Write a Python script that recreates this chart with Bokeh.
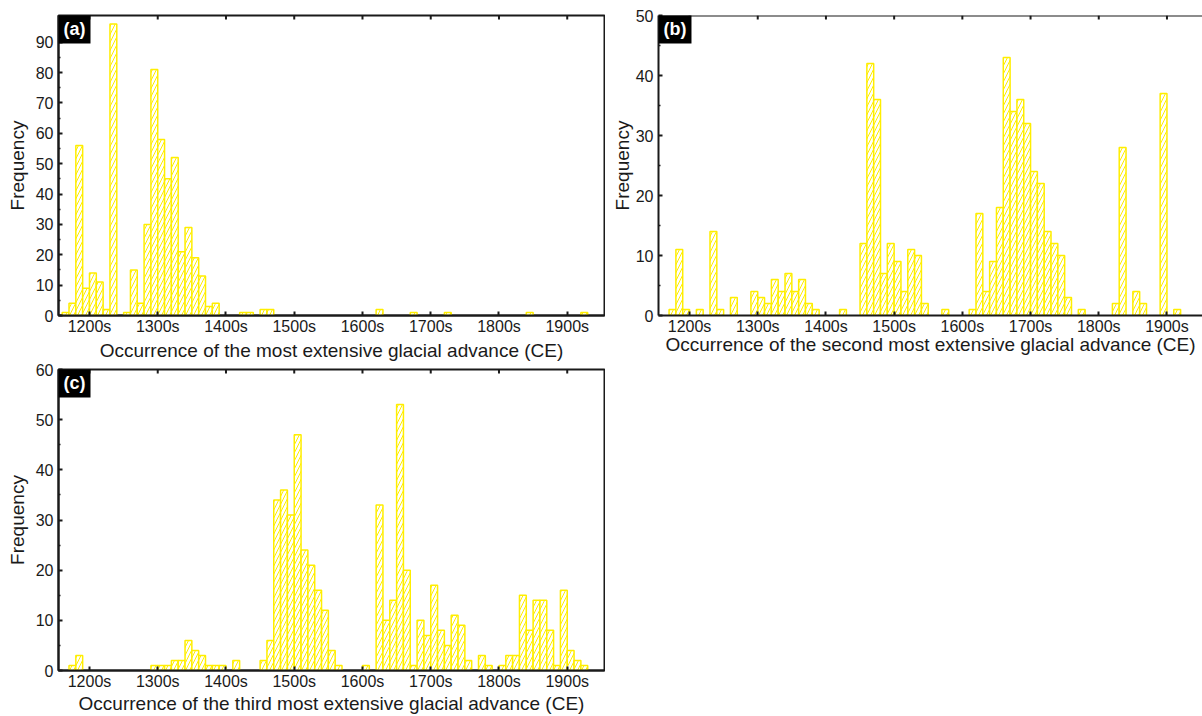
from bokeh.plotting import figure
from bokeh.models import Range1d, FixedTicker, Label, ColumnDataSource, Span
from bokeh.layouts import column, row
from bokeh.embed import file_html
from bokeh.resources import INLINE

# ---------------- data ----------------
bin_width = 10
x_ticks = [1200, 1300, 1400, 1500, 1600, 1700, 1800, 1900]
x_tick_labels = ["1200s", "1300s", "1400s", "1500s", "1600s", "1700s", "1800s", "1900s"]

decades_a = [1160, 1170, 1180, 1190, 1200, 1210, 1220, 1230, 1250, 1260, 1270, 1280,
             1290, 1300, 1310, 1320, 1330, 1340, 1350, 1360, 1370, 1380, 1420, 1430,
             1450, 1460, 1620, 1670, 1720, 1840, 1920]
counts_a = [1, 4, 56, 9, 14, 11, 2, 96, 1, 15, 4, 30,
            81, 58, 45, 52, 21, 29, 19, 13, 3, 4, 1, 1,
            2, 2, 2, 1, 1, 1, 1]

decades_b = [1170, 1180, 1190, 1210, 1230, 1240, 1260, 1290, 1300, 1310, 1320, 1330,
             1340, 1350, 1360, 1370, 1380, 1420, 1450, 1460, 1470, 1480, 1490, 1500,
             1510, 1520, 1530, 1540, 1570, 1610, 1620, 1630, 1640, 1650, 1660, 1670,
             1680, 1690, 1700, 1710, 1720, 1730, 1740, 1750, 1770, 1820, 1830, 1850,
             1860, 1890, 1910]
counts_b = [1, 11, 1, 1, 14, 1, 3, 4, 3, 2, 6, 4,
            7, 4, 6, 2, 1, 1, 12, 42, 36, 7, 12, 9,
            4, 11, 10, 2, 1, 1, 17, 4, 9, 18, 43, 34,
            36, 32, 24, 22, 14, 12, 10, 3, 1, 2, 28, 4,
            2, 37, 1]

decades_c = [1170, 1180, 1290, 1300, 1310, 1320, 1330, 1340, 1350, 1360, 1370, 1380,
             1390, 1410, 1450, 1460, 1470, 1480, 1490, 1500, 1510, 1520, 1530, 1540,
             1550, 1560, 1600, 1620, 1630, 1640, 1650, 1660, 1670, 1680, 1690, 1700,
             1710, 1720, 1730, 1740, 1750, 1770, 1780, 1800, 1810, 1820, 1830, 1840,
             1850, 1860, 1870, 1880, 1890, 1900, 1910, 1920]
counts_c = [1, 3, 1, 1, 1, 2, 2, 6, 4, 3, 1, 1,
            1, 2, 2, 6, 34, 36, 31, 47, 24, 21, 16, 12,
            4, 1, 1, 33, 10, 14, 53, 20, 1, 10, 7, 17,
            8, 5, 11, 9, 2, 3, 1, 1, 3, 3, 15, 8,
            14, 14, 8, 1, 16, 4, 2, 1]

panel_tags = ["(a)", "(b)", "(c)"]
x_titles = ["Occurrence of the most extensive glacial advance (CE)",
            "Occurrence of the second most extensive glacial advance (CE)",
            "Occurrence of the third most extensive glacial advance (CE)"]
y_title = "Frequency"

# ---------------- styling ----------------
FONT = "Liberation Sans"
BAR_COLOR = "#FFEE00"
INK = "#1a1a1a"


def make_panel(decades, counts, ymax, ystep, x_start, x_end, fw, fh,
               mb_left, mb_right, mb_top, mb_bottom, label_standoff,
               y_label_standoff, tag, xtitle, outline=True):
    p = figure(frame_width=fw, frame_height=fh, title=None,
               x_range=Range1d(x_start, x_end), y_range=Range1d(0, ymax),
               output_backend="svg", toolbar_location=None,
               min_border_left=mb_left, min_border_right=mb_right,
               min_border_top=mb_top, min_border_bottom=mb_bottom,
               background_fill_color="white", border_fill_color="white")
    p.grid.visible = False
    if outline:
        p.outline_line_color = INK
        p.outline_line_width = 2
        p.outline_line_alpha = 1
    else:
        p.outline_line_color = None
        p.add_layout(Span(location=ymax, dimension="width",
                          line_color=INK, line_width=2))

    src = ColumnDataSource(dict(left=decades,
                                right=[d + bin_width for d in decades],
                                top=counts))
    p.quad(left="left", right="right", bottom=0, top="top", source=src,
           fill_color="white", line_color=BAR_COLOR, line_width=1.5,
           hatch_pattern="/", hatch_color=BAR_COLOR, hatch_scale=8,
           hatch_weight=1)

    # inward tick marks along the top edge, at the x tick positions
    tick_len = ymax * 4.0 / fh
    p.segment(x0=x_ticks, x1=x_ticks, y0=[ymax] * len(x_ticks),
              y1=[ymax - tick_len] * len(x_ticks), line_color=INK, line_width=2)

    yt = list(range(0, int(ymax) + 1, ystep))
    ymin_t = [v + ystep / 2 for v in yt if v + ystep / 2 < ymax]

    xa = p.xaxis[0]
    xa.ticker = FixedTicker(ticks=x_ticks, minor_ticks=[])
    xa.major_label_overrides = dict(zip(x_ticks, x_tick_labels))
    xa.axis_label = xtitle
    xa.axis_label_standoff = label_standoff
    xa.major_label_standoff = 2

    ya = p.yaxis[0]
    ya.ticker = FixedTicker(ticks=yt, minor_ticks=ymin_t)
    ya.axis_label = y_title
    ya.axis_label_standoff = y_label_standoff
    ya.major_label_standoff = 5

    for ax in (xa, ya):
        ax.axis_line_color = INK
        ax.axis_line_width = 2
        ax.major_tick_line_color = INK
        ax.major_tick_line_width = 2
        ax.major_tick_in = 4
        ax.major_tick_out = 0
        ax.minor_tick_line_color = INK
        ax.minor_tick_line_width = 1.5
        ax.minor_tick_in = 2
        ax.minor_tick_out = 0
        ax.major_label_text_font = FONT
        ax.major_label_text_font_size = "16px"
        ax.major_label_text_color = INK
        ax.axis_label_text_font = FONT
        ax.axis_label_text_font_size = "19px"
        ax.axis_label_text_font_style = "normal"
        ax.axis_label_text_color = INK

    lab = Label(x=x_start, y=ymax, text=tag, text_align="left", text_baseline="top",
                text_font=FONT, text_font_size="18px", text_font_style="bold",
                text_color="white", background_fill_color="black",
                background_fill_alpha=1, padding=5, y_offset=2)
    p.add_layout(lab)
    return p


xa0, xa1 = 1154.6, 1954.6
pa = make_panel(decades_a, counts_a, 98.8, 10, xa0, xa1, 546, 300,
                58, 1, 15, 48, 2, 5, panel_tags[0], x_titles[0])
pb = make_panel(decades_b, counts_b, 50, 10, 1154.5, 1952.1, 544, 300,
                53, 0, 15, 42, -4, 0, panel_tags[1], x_titles[1], outline=False)
pc = make_panel(decades_c, counts_c, 60, 10, xa0, xa1, 546, 301,
                58, 1, 6, 46, 0, 5, panel_tags[2], x_titles[2])

layout = column(row(pa, pb), pc)
open("out.html", "w").write(file_html(layout, INLINE))
